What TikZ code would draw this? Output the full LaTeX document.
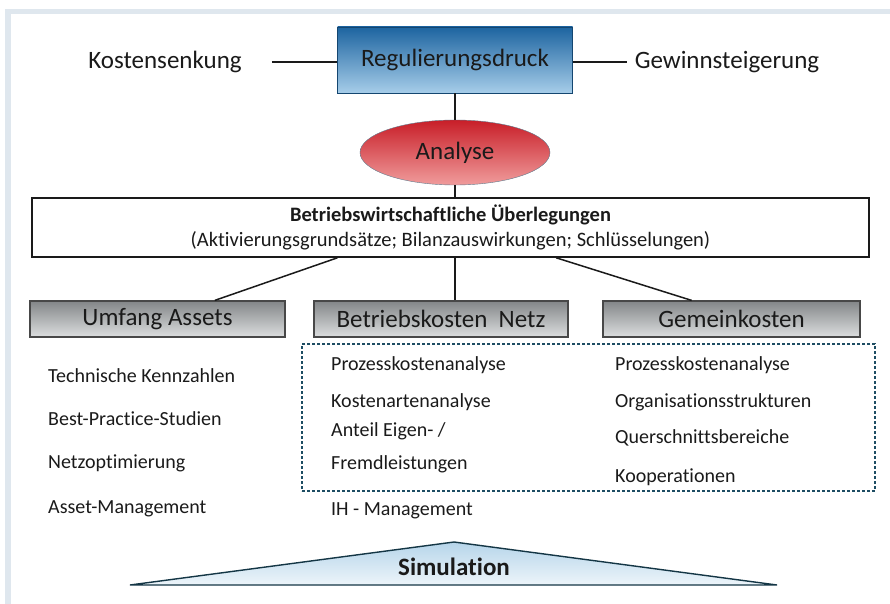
\documentclass[tikz,border=0pt]{standalone}
\usepackage{fontspec}
\setmainfont{Carlito}[Ligatures=NoCommon]
\usetikzlibrary{positioning,shapes.geometric}
\definecolor{ink}{HTML}{1A1A1A}
\definecolor{rahmen}{HTML}{DFE7EE}
\definecolor{blaudunkel}{HTML}{1D64A0}
\definecolor{blauhell}{HTML}{A6CDE9}
\definecolor{rotdunkel}{HTML}{C81E28}
\definecolor{rothell}{HTML}{F09C9C}
\definecolor{graudunkel}{HTML}{838688}
\definecolor{grauhell}{HTML}{DCDEDF}
\definecolor{petrol}{HTML}{1D4D63}
\definecolor{eisblau}{HTML}{B6D5EA}
\definecolor{randgrau}{HTML}{5F7A8C}

\begin{document}
\begin{tikzpicture}[x=1pt,y=-1pt,
			lbl/.style={inner sep=0pt,text=ink,font=\fontsize{25}{30}\selectfont},
			kopf/.style={draw=blaudunkel!70!black,thin,top color=blaudunkel,bottom color=blauhell,minimum width=235pt,minimum height=66pt,inner sep=0pt,text=ink,font=\fontsize{25}{30}\selectfont},
			anabox/.style={ellipse,draw=randgrau,thin,top color=rotdunkel,bottom color=rothell,minimum width=190pt,minimum height=65pt,inner sep=0pt,text=ink,font=\fontsize{25}{30}\selectfont},
			bwlbox/.style={draw=ink,line width=1.6pt,fill=white,minimum width=837pt,minimum height=59pt,inner sep=0pt,align=center,text=ink,font=\fontsize{20.5}{25}\selectfont},
			bereich/.style={draw=ink!80,line width=1.2pt,top color=graudunkel,bottom color=grauhell,minimum height=36pt,inner sep=0pt,text=ink,font=\fontsize{25}{30}\selectfont},
			grp/.style={draw=petrol,line width=1.1pt,dash pattern=on 3pt off 2pt,minimum width=573pt,minimum height=147pt,inner sep=0pt},
			item/.style={anchor=west,inner sep=0pt,text height=14pt,text depth=4pt,text=ink,align=left,font=\fontsize{20}{33}\selectfont},
			lnk/.style={draw=ink,line width=1.5pt}
			]
			\useasboundingbox (0,0) rectangle (890,604);
			\fill[rahmen] (5,9) rectangle (890,14);
			\fill[rahmen] (5,9) rectangle (11,604);
			\node[kopf] (reg) at (455,60) {Regulierungsdruck};
			\node[lbl] (kos) at (165,62) {Kostensenkung};
			\node[lbl] (gew) at (727,62) {Gewinnsteigerung};
			\node[anabox] (ana) at (455,152.5) {Analyse};
			\node[bwlbox] (bwl) at (450.5,227.5) {{\bfseries Betriebswirtschaftliche Überlegungen}\\(Aktivierungsgrundsätze; Bilanzauswirkungen; Schlüsselungen)};
			\node[bereich,minimum width=255pt] (umf) at (157.5,319) {Umfang Assets};
			\node[bereich,minimum width=254pt] (bkn) at (441,319) {Betriebskosten~ Netz};
			\node[bereich,minimum width=257pt] (gmk) at (731.5,319) {Gemeinkosten};
			\node[grp] (grp) at (588.5,417.5) {};
			\node[item] (u1) at (48,377) {Technische Kennzahlen};
			\node[item] (u2) at (48,420) {Best-Practice-Studien};
			\node[item] (u3) at (48,463) {Netzoptimierung};
			\node[item] (u4) at (48,508) {Asset-Management};
			\node[item] (b1) at (331,365) {Prozesskostenanalyse};
			\node[item] (b2) at (331,402) {Kostenartenanalyse};
			\node[item,text height=,text depth=] (b3) at (331,447.5) {Anteil Eigen- /\\Fremdleistungen};
			\node[item] (b4) at (331,510) {IH - Management};
			\node[item] (g1) at (615,365) {Prozesskostenanalyse};
			\node[item] (g2) at (615,402) {Organisationsstrukturen};
			\node[item] (g3) at (615,438) {Querschnittsbereiche};
			\node[item] (g4) at (615,477) {Kooperationen};
			\coordinate (simL) at (130,585);
			\coordinate (simT) at (454,542);
			\coordinate (simR) at (777,585);
			\draw[draw=petrol!70!black,line width=1.4pt,top color=eisblau,bottom color=eisblau!25] (simL) -- (simT) -- (simR) -- cycle;
			\node[text=ink,font=\fontsize{25}{30}\selectfont\bfseries] (sim) at (454,567) {Simulation};
			\draw[lnk,shorten <=30pt] (kos.east) -- (kos.east -| reg.west);
			\draw[lnk,shorten >=8pt] (reg.east |- gew.west) -- (gew.west);
			\draw[lnk] (reg) -- (ana);
			\draw[lnk] (ana) -- (ana |- bwl.north);
			\draw[lnk] (ana |- bwl.south) -- (ana |- bkn.north);
			\draw[lnk] (bwl.195.9) -- (umf.18);
			\draw[lnk] (bwl.344.5) -- (gmk.155.5);
		\end{tikzpicture}
\end{document}
